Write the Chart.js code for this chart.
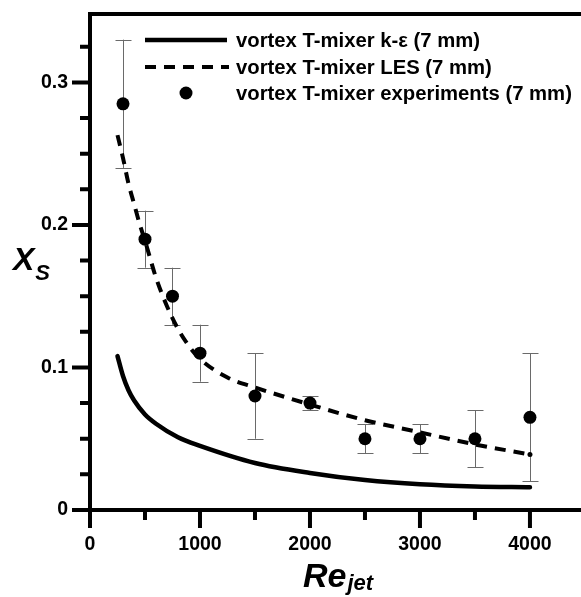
<!DOCTYPE html>
<html>
<head>
<meta charset="utf-8">
<script src="https://cdn.jsdelivr.net/npm/chart.js@4.4.1/dist/chart.umd.min.js"></script>
<style>
html,body{margin:0;padding:0;background:#fff;}
#wrap{width:581px;height:597px;position:relative;}
</style>
</head>
<body>
<div id="wrap"><canvas id="c" width="581" height="597" style="width:581px;height:597px"></canvas></div>
<script>
// ---- data ----
const reKe  = [250, 300, 350, 400, 500, 600, 800, 1000, 1500, 2000, 2500, 3000, 3500, 4000];
const xsKe  = [0.108, 0.094, 0.084, 0.077, 0.067, 0.0605, 0.051, 0.045, 0.033, 0.026, 0.021, 0.018, 0.0165, 0.016];

const reLes = [250, 300, 350, 400, 450, 500, 600, 700, 800, 900, 1000, 1250, 1500, 2000, 2500, 3000, 3500, 4000];
const xsLes = [0.263, 0.247, 0.229, 0.215, 0.201, 0.189, 0.163, 0.143, 0.127, 0.115, 0.106, 0.093, 0.086, 0.074, 0.063, 0.0545, 0.046, 0.039];

const reExp   = [300, 500, 750, 1000, 1500, 2000, 2500, 3000, 3500, 4000];
const xsExp   = [0.285, 0.19, 0.15, 0.11, 0.08, 0.075, 0.05, 0.05, 0.05, 0.065];
const errLow  = [0.24, 0.17, 0.13, 0.09, 0.05, 0.07, 0.04, 0.04, 0.03, 0.02];
const errHigh = [0.33, 0.21, 0.17, 0.13, 0.11, 0.08, 0.06, 0.06, 0.07, 0.11];

const xTicks = [0, 500, 1000, 1500, 2000, 2500, 3000, 3500, 4000];
const xLabelTicks = [0, 1000, 2000, 3000, 4000];
const yTicks = [0, 0.025, 0.05, 0.075, 0.1, 0.125, 0.15, 0.175, 0.2, 0.225, 0.25, 0.275, 0.3, 0.325];
const yLabelTicks = [0, 0.1, 0.2, 0.3];

const legendLabels = ['vortex T-mixer k-\u03b5 (7 mm)', 'vortex T-mixer LES (7 mm)', 'vortex T-mixer experiments (7 mm)'];

const FONT = '"Liberation Sans", Arial, sans-serif';
const isLabel = (arr, v) => arr.some(a => Math.abs(a - v) < 1e-9);

const toPts = (xs, ys) => xs.map((x, i) => ({x: x, y: ys[i]}));
const zeroPad = s => { s.paddingLeft = 0; s.paddingRight = 0; s.paddingTop = 0; s.paddingBottom = 0; };

const framePlugin = {
  id: 'frame',
  beforeDatasetsDraw(chart) {
    const {ctx, scales: {x, y}} = chart;
    // error bars
    ctx.save();
    ctx.strokeStyle = '#6a6a6a';
    ctx.lineWidth = 1;
    reExp.forEach((r, i) => {
      const px = Math.round(x.getPixelForValue(r)) + 0.5;
      const py1 = y.getPixelForValue(errLow[i]);
      const py2 = y.getPixelForValue(errHigh[i]);
      ctx.beginPath();
      ctx.moveTo(px, py1); ctx.lineTo(px, py2);
      ctx.moveTo(px - 8, Math.round(py1) + 0.5); ctx.lineTo(px + 8, Math.round(py1) + 0.5);
      ctx.moveTo(px - 8, Math.round(py2) + 0.5); ctx.lineTo(px + 8, Math.round(py2) + 0.5);
      ctx.stroke();
    });
    ctx.restore();
  },
  afterDraw(chart) {
    const {ctx, chartArea: ca, scales: {x, y}} = chart;
    ctx.save();
    ctx.strokeStyle = '#000';
    ctx.lineWidth = 4;
    ctx.lineCap = 'butt';
    // axes and top frame
    ctx.beginPath();
    ctx.moveTo(ca.left, ca.top); ctx.lineTo(chart.width, ca.top);
    ctx.moveTo(ca.left, ca.top - 2); ctx.lineTo(ca.left, ca.bottom + 2);
    ctx.moveTo(ca.left - 2, ca.bottom); ctx.lineTo(chart.width, ca.bottom);
    ctx.stroke();
    // ticks
    ctx.beginPath();
    xTicks.forEach(v => {
      const px = x.getPixelForValue(v);
      const len = isLabel(xLabelTicks, v) ? 18 : 10;
      ctx.moveTo(px, ca.bottom); ctx.lineTo(px, ca.bottom + len);
    });
    yTicks.forEach(v => {
      const py = y.getPixelForValue(v);
      const len = isLabel(yLabelTicks, v) ? 18 : 10;
      ctx.moveTo(ca.left, py); ctx.lineTo(ca.left - len, py);
    });
    ctx.stroke();

    // axis titles
    ctx.fillStyle = '#000';
    ctx.textBaseline = 'alphabetic';
    ctx.textAlign = 'left';
    ctx.font = 'italic bold 32px ' + FONT;
    ctx.fillText('X', 13, 270);
    const w = ctx.measureText('X').width;
    ctx.font = 'italic bold 22px ' + FONT;
    ctx.fillText('S', 13 + w + 1, 280);

    ctx.font = 'italic bold 34px ' + FONT;
    const reW = ctx.measureText('Re').width;
    ctx.font = 'italic bold 22px ' + FONT;
    const jetW = ctx.measureText('jet').width;
    const cx = 338;
    const sx = cx - (reW + jetW + 1) / 2;
    ctx.font = 'italic bold 34px ' + FONT;
    ctx.fillText('Re', sx, 587);
    ctx.font = 'italic bold 22px ' + FONT;
    ctx.fillText('jet', sx + reW + 1, 590);

    // legend
    const rows = [40, 67, 93];
    const lx1 = 145, lx2 = 227, tx = 236;
    ctx.lineWidth = 4.5;
    ctx.beginPath(); ctx.moveTo(lx1, rows[0]); ctx.lineTo(lx2, rows[0]); ctx.stroke();
    ctx.lineWidth = 4;
    ctx.setLineDash([11, 8]);
    ctx.beginPath(); ctx.moveTo(lx1, rows[1]); ctx.lineTo(lx2 + 2, rows[1]); ctx.stroke();
    ctx.setLineDash([]);
    ctx.beginPath(); ctx.arc(186, rows[2], 6.5, 0, Math.PI * 2); ctx.fill();
    ctx.font = 'bold 20.3px ' + FONT;
    ctx.textBaseline = 'middle';
    legendLabels.forEach((t, i) => ctx.fillText(t, tx, rows[i] + 1));
    ctx.restore();
  }
};

new Chart(document.getElementById('c'), {
  type: 'scatter',
  data: {
    datasets: [
      {
        label: legendLabels[0],
        data: toPts(reKe, xsKe),
        showLine: true,
        borderColor: '#000',
        borderWidth: 4.5,
        borderCapStyle: 'round',
        pointRadius: 0,
        cubicInterpolationMode: 'monotone',
        order: 3
      },
      {
        label: legendLabels[1],
        data: toPts(reLes, xsLes),
        showLine: true,
        borderColor: '#000',
        backgroundColor: '#000',
        borderWidth: 4,
        borderDash: [11, 8],
        pointRadius: reLes.map((r, i) => i === reLes.length - 1 ? 2.5 : 0),
        pointBorderWidth: 0,
        cubicInterpolationMode: 'monotone',
        order: 2
      },
      {
        label: legendLabels[2],
        data: toPts(reExp, xsExp),
        showLine: false,
        backgroundColor: '#000',
        borderColor: '#000',
        pointRadius: 6.5,
        pointBorderWidth: 0,
        order: 1
      }
    ]
  },
  plugins: [framePlugin],
  options: {
    responsive: false,
    animation: false,
    devicePixelRatio: 1,
    layout: {padding: {left: 0, right: 0, top: 14, bottom: 0}},
    plugins: {legend: {display: false}, tooltip: {enabled: false}},
    scales: {
      x: {
        type: 'linear',
        min: 0,
        max: 4405,
        afterBuildTicks: s => { s.ticks = xTicks.map(v => ({value: v})); },
        afterFit: s => { s.height = 87; zeroPad(s); },
        grid: {display: false, drawTicks: false},
        border: {display: false},
        ticks: {
          padding: 23,
          color: '#000',
          font: {family: FONT, size: 19.5, weight: 'bold'},
          maxRotation: 0,
          autoSkip: false,
          callback: v => isLabel(xLabelTicks, v) ? String(v) : ''
        }
      },
      y: {
        type: 'linear',
        min: 0,
        max: 0.348,
        afterBuildTicks: s => { s.ticks = yTicks.map(v => ({value: v})); },
        afterFit: s => { s.width = 90; zeroPad(s); },
        grid: {display: false, drawTicks: false},
        border: {display: false},
        ticks: {
          padding: 22,
          color: '#000',
          font: {family: FONT, size: 19.5, weight: 'bold'},
          autoSkip: false,
          callback: v => isLabel(yLabelTicks, v) ? (v === 0 ? '0' : String(+v.toFixed(1))) : ''
        }
      }
    }
  }
});
</script>
</body>
</html>
